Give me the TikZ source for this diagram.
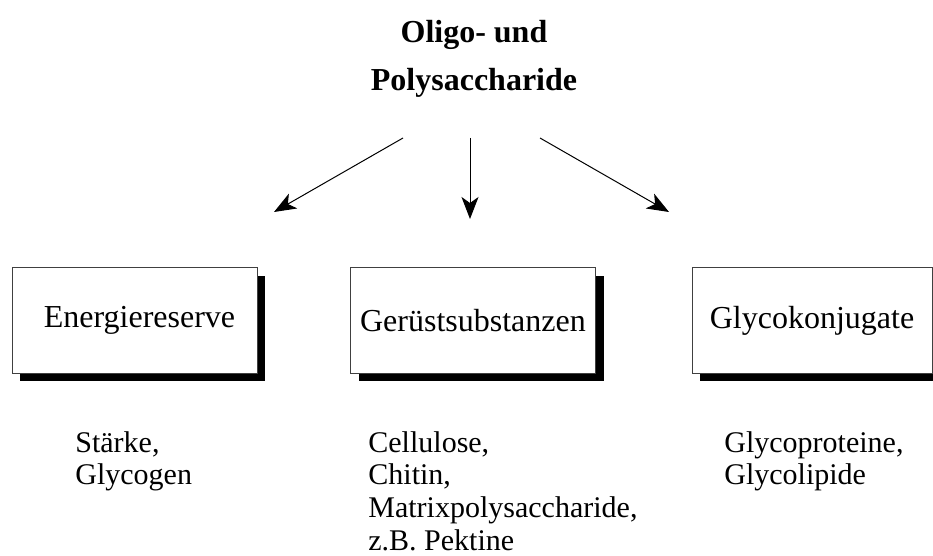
\documentclass[tikz,border=0pt]{standalone}
\usepackage{fontspec}
\setmainfont{Liberation Serif}
\usetikzlibrary{arrows.meta,shadows}
\tikzset{
	kasten/.style={draw=black!75, line width=0.5pt, fill=white, inner sep=0pt,
		minimum width=122.5pt, minimum height=52.5pt,
		drop shadow={shadow xshift=4pt, shadow yshift=-4pt, fill=black, opacity=1},
		font=\fontsize{16}{19}\selectfont},
	pfeil/.style={line width=0.5pt, -{Stealth[length=11pt,width=8.5pt,inset=3pt]}},
	liste/.style={anchor=north west, inner sep=0pt, align=left,
		font=\fontsize{15}{16.3}\selectfont}
}

\begin{document}
\begin{tikzpicture}[x=0.5pt, y=-0.5pt]
			%%%%% START %%%%%
			
			\useasboundingbox (0, 0) rectangle (933, 556);
			
			\node[anchor=north, inner sep=0pt, align=center, font=\fontsize{16}{24}\selectfont\bfseries] (titel) at (474, 20) {Oligo- und\\Polysaccharide};
			
			\coordinate (s1) at (403, 138);
			\coordinate (s2) at (470, 138);
			\coordinate (s3) at (540, 138);
			\coordinate (z1) at (274, 212);
			\coordinate (z2) at (470, 219);
			\coordinate (z3) at (669, 212);
			
			\draw[pfeil] (s1) -- (z1);
			\draw[pfeil] (s2) -- (z2);
			\draw[pfeil] (s3) -- (z3);
			
			\node[kasten] (energie) at (134.5, 320.5) {\hspace{5pt}Energiereserve};
			\node[kasten] (geruest) at (473, 320.5) {Gerüstsubstanzen};
			\node[kasten, minimum width=120pt] (glyko) at (812, 320.5) {Glycokonjugate};
			
			\node[liste] (bsp1) at (75, 431) {Stärke,\\Glycogen};
			\node[liste] (bsp2) at (368, 431) {Cellulose,\\Chitin,\\Matrixpolysaccharide,\\z.B. Pektine};
			\node[liste] (bsp3) at (724, 431) {Glycoproteine,\\Glycolipide};
			
			%%%%% END %%%%%
		\end{tikzpicture}
\end{document}
